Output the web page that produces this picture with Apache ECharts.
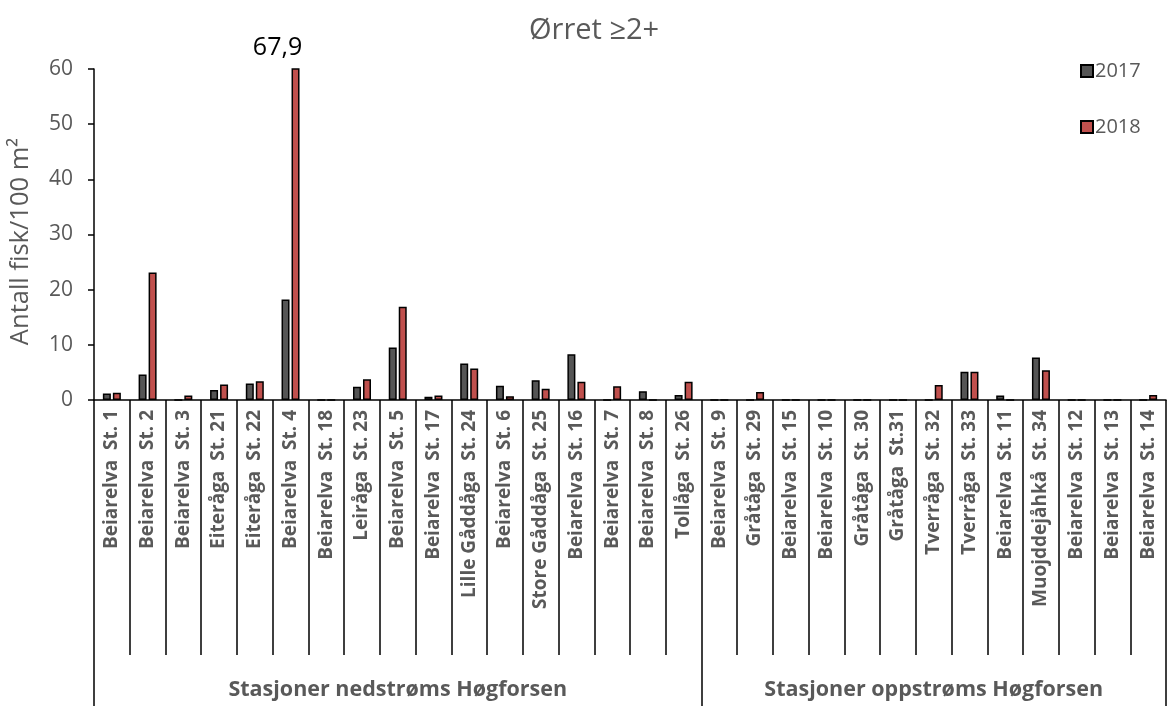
<!DOCTYPE html>
<html>
<head>
<meta charset="utf-8">
<script src="https://cdn.jsdelivr.net/npm/echarts@6/dist/echarts.min.js"></script>
<style>
html,body{margin:0;padding:0;background:#fff;}
#chart{width:1167px;height:706px;}
</style>
</head>
<body>
<div id="chart"></div>
<script>
const categories = [
  'Beiarelva  St. 1', 'Beiarelva  St. 2', 'Beiarelva  St. 3', 'Eiteråga  St. 21', 'Eiteråga  St. 22',
  'Beiarelva  St. 4', 'Beiarelva  St. 18', 'Leiråga  St. 23', 'Beiarelva  St. 5', 'Beiarelva  St. 17',
  'Lille Gåddåga  St. 24', 'Beiarelva  St. 6', 'Store Gåddåga  St. 25', 'Beiarelva  St. 16', 'Beiarelva  St. 7',
  'Beiarelva  St. 8', 'Tollåga  St. 26',
  'Beiarelva  St. 9', 'Gråtåga  St. 29', 'Beiarelva  St. 15', 'Beiarelva  St. 10', 'Gråtåga  St. 30',
  'Gråtåga  St.31', 'Tverråga  St. 32', 'Tverråga  St. 33', 'Beiarelva  St. 11', 'Muojddejåhkå  St. 34',
  'Beiarelva  St. 12', 'Beiarelva  St. 13', 'Beiarelva  St. 14'
];
const values2017 = [1.2, 4.6, 0, 1.8, 3.0, 18.2, 0, 2.4, 9.5, 0.6, 6.6, 2.6, 3.6, 8.3, 0, 1.6, 0.9,
  0, 0, 0, 0, 0, 0, 0, 5.1, 0.8, 7.7, 0, 0, 0];
const values2018 = [1.3, 23.1, 0.8, 2.8, 3.4, 67.9, 0, 3.75, 16.9, 0.8, 5.7, 0.7, 2.05, 3.3, 2.5, 0, 3.3,
  0, 1.45, 0, 0, 0, 0, 2.7, 5.1, 0, 5.4, 0, 0, 0.9];
const seriesNames = ['2017', '2018'];
const groupNames = ['Stasjoner nedstrøms Høgforsen', 'Stasjoner oppstrøms Høgforsen'];
const groupSizes = [17, 13];
const yTicks = [0, 10, 20, 30, 40, 50, 60];

const yMin = yTicks[0], yMax = yTicks[yTicks.length - 1], yStep = yTicks[1] - yTicks[0];

// group label row: name at the middle category of each group, boundaries for ticks
const groupLabels = new Array(categories.length).fill('');
const boundaries = [0];
let start = 0;
groupSizes.forEach((n, g) => {
  groupLabels[start + Math.floor(n / 2)] = groupNames[g];
  start += n;
  boundaries.push(start);
});

const overIdx = values2018.findIndex(v => v > yMax);
const fmt = v => String(v).replace('.', ',');

const FONT = 'Open Sans';
const GRAY = '#595959';

const chart = echarts.init(document.getElementById('chart'), null, {renderer: 'canvas'});
chart.setOption({
  backgroundColor: '#ffffff',
  animation: false,
  textStyle: {fontFamily: FONT},
  title: {
    text: 'Ørret ≥2+',
    left: 524,
    top: 11,
    textStyle: {fontFamily: FONT, fontSize: 29, fontWeight: 'normal', color: GRAY}
  },
  legend: {
    orient: 'vertical',
    left: 1075,
    top: 56,
    itemWidth: 12,
    itemHeight: 12,
    itemGap: 36,
    icon: 'rect',
    textStyle: {fontFamily: FONT, fontSize: 20, color: GRAY, padding: [0, 0, 0, -3]},
    data: seriesNames
  },
  grid: {left: 92, right: 1, top: 69, bottom: 306, containLabel: false},
  xAxis: [{
    type: 'category',
    data: categories,
    boundaryGap: true,
    axisLine: {show: true, lineStyle: {color: '#000', width: 1.5}},
    axisTick: {show: true, interval: 0, length: 255, lineStyle: {color: '#000', width: 1.5}},
    axisLabel: {
      interval: 0, rotate: 90, margin: 10,
      fontFamily: FONT, fontSize: 19, fontWeight: 'bold', color: GRAY
    }
  }, {
    type: 'category',
    data: groupLabels,
    position: 'bottom',
    offset: 255,
    boundaryGap: true,
    axisLine: {show: false},
    axisTick: {
      show: true, length: 51,
      interval: (i) => boundaries.indexOf(i) >= 0,
      lineStyle: {color: '#000', width: 1.5}
    },
    axisLabel: {
      interval: 0, margin: 24,
      fontFamily: FONT, fontSize: 21.5, fontWeight: 'bold', color: GRAY
    }
  }],
  yAxis: {
    type: 'value',
    min: yMin, max: yMax, interval: yStep,
    name: 'Antall fisk/100 m²',
    nameLocation: 'middle',
    nameGap: 60,
    nameTextStyle: {fontFamily: FONT, fontSize: 25.5, color: GRAY, padding: [0, 14, 0, 0]},
    splitLine: {show: false},
    axisLine: {show: true, lineStyle: {color: '#000', width: 1.5}},
    axisTick: {show: true, inside: false, length: 6, lineStyle: {color: '#000', width: 1.5}},
    axisLabel: {fontFamily: FONT, fontSize: 21, color: GRAY, margin: 21}
  },
  series: [{
    name: seriesNames[0],
    type: 'bar',
    data: values2017,
    barWidth: 8,
    barGap: '25%',
    clip: true,
    itemStyle: {color: '#555555', borderColor: '#000', borderWidth: 1.5}
  }, {
    name: seriesNames[1],
    type: 'bar',
    data: values2018,
    barWidth: 8,
    clip: true,
    itemStyle: {color: '#C0504D', borderColor: '#000', borderWidth: 1.5},
    markPoint: overIdx >= 0 ? {
      symbol: 'rect',
      symbolSize: 0,
      data: [{coord: [categories[overIdx], yMax], value: values2018[overIdx]}],
      label: {
        show: true,
        position: 'inside',
        offset: [-18, -21],
        formatter: p => fmt(p.value),
        fontFamily: FONT, fontSize: 25, color: '#000'
      }
    } : undefined
  }]
});
</script>
</body>
</html>
